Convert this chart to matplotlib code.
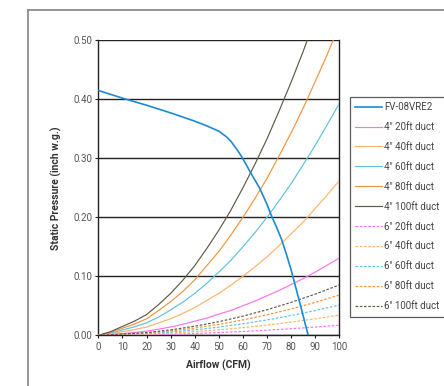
import matplotlib
matplotlib.use("Agg")
import matplotlib.pyplot as plt
from matplotlib.lines import Line2D

plt.rcParams['font.family'] = ['Roboto', 'DejaVu Sans']

# ---- data ----
airflow = [0, 5, 10, 15, 20, 25, 30, 35, 40, 45, 50, 55, 60, 65, 70, 75, 80, 85, 90, 95, 100]

fan_x = [0, 10, 20, 30, 40, 45, 50, 53, 55, 57, 59, 61, 63, 65, 67, 70, 72, 74, 76, 78, 80, 82, 84, 86, 87.1]
fan_y = [0.415, 0.402, 0.390, 0.377, 0.363, 0.355, 0.346, 0.337, 0.329, 0.318, 0.306, 0.292,
         0.277, 0.263, 0.249, 0.222, 0.201, 0.183, 0.163, 0.138, 0.111, 0.080, 0.049, 0.017, 0.0]

d4_20 = [0, 0.0012, 0.003, 0.0048, 0.007, 0.0104, 0.014, 0.0186, 0.024, 0.029, 0.036,
         0.042, 0.050, 0.058, 0.067, 0.076, 0.086, 0.096, 0.107, 0.119, 0.131]
d4_40 = [0, 0.0024, 0.006, 0.0096, 0.014, 0.021, 0.028, 0.037, 0.047, 0.059, 0.071,
         0.085, 0.100, 0.116, 0.133, 0.152, 0.172, 0.192, 0.215, 0.238, 0.262]
d4_60 = [0, 0.0036, 0.009, 0.0144, 0.021, 0.031, 0.043, 0.056, 0.071, 0.088, 0.107,
         0.127, 0.150, 0.174, 0.200, 0.228, 0.257, 0.289, 0.322, 0.357, 0.393]
d4_80 = [0, 0.005, 0.012, 0.019, 0.028, 0.042, 0.057, 0.074, 0.094, 0.118, 0.142,
         0.170, 0.200, 0.232, 0.266, 0.304, 0.343, 0.385, 0.430, 0.476, 0.525]
d4_100 = [0, 0.006, 0.015, 0.024, 0.035, 0.052, 0.071, 0.093, 0.118, 0.147, 0.178,
          0.212, 0.250, 0.290, 0.333, 0.380, 0.429, 0.481, 0.537, 0.595, 0.656]

airflow6 = [0, 10, 20, 30, 40, 50, 60, 70, 80, 90, 100]
d6_20 = [0, 0.0004, 0.0009, 0.0018, 0.0031, 0.0046, 0.0065, 0.0087, 0.0112, 0.0140, 0.0171]
d6_40 = [0, 0.0008, 0.0018, 0.0037, 0.0062, 0.0093, 0.0130, 0.0173, 0.0223, 0.0279, 0.0341]
d6_60 = [0, 0.0012, 0.0028, 0.0055, 0.0092, 0.0139, 0.0195, 0.0260, 0.0335, 0.0419, 0.0512]
d6_80 = [0, 0.0016, 0.0037, 0.0074, 0.0123, 0.0185, 0.0260, 0.0347, 0.0446, 0.0558, 0.0682]
d6_100 = [0, 0.0020, 0.0046, 0.0092, 0.0154, 0.0230, 0.0325, 0.0433, 0.0558, 0.0698, 0.0853]

labels_4 = ['4" 20ft duct', '4" 40ft duct', '4" 60ft duct', '4" 80ft duct', '4" 100ft duct']
labels_6 = ['6" 20ft duct', '6" 40ft duct', '6" 60ft duct', '6" 80ft duct', '6" 100ft duct']
fan_label = 'FV-08VRE2'

x_ticks = [0, 10, 20, 30, 40, 50, 60, 70, 80, 90, 100]
y_ticks = [0.0, 0.1, 0.2, 0.3, 0.4, 0.5]

# ---- styles ----
duct_colors = ['#ff70f0', '#fdb368', '#5dc2e0', '#f3943f', '#5f5a45']
fan_color = '#1b8ad6'

W, H = 444, 386
fig = plt.figure(figsize=(W / 100, H / 100), dpi=100)

# outer frame
fig.add_artist(Line2D([28 / W, 28 / W], [0, 1 - 9.5 / H], transform=fig.transFigure,
                      color='#8c8c8c', lw=1.3))
fig.add_artist(Line2D([28 / W, 1], [1 - 9.5 / H, 1 - 9.5 / H], transform=fig.transFigure,
                      color='#8c8c8c', lw=1.3))

ax = fig.add_axes([98.3 / W, 1 - 335.3 / H, (339.3 - 98.3) / W, (335.3 - 40.3) / H])

handles = []
h, = ax.plot(fan_x, fan_y, color=fan_color, lw=1.2, label=fan_label, zorder=4)
handles.append(h)
for ys, c, lab in zip([d4_20, d4_40, d4_60, d4_80, d4_100], duct_colors, labels_4):
    h, = ax.plot(airflow, ys, color=c, lw=0.85, label=lab, zorder=3)
    handles.append(h)
for ys, c, lab in zip([d6_20, d6_40, d6_60, d6_80, d6_100], duct_colors, labels_6):
    h, = ax.plot(airflow6, ys, color=c, lw=0.85, ls=(0, (2.2, 1.4)), label=lab, zorder=3)
    handles.append(h)

ax.set_xlim(0, 100)
ax.set_ylim(0, 0.5)
ax.set_xticks(x_ticks)
ax.set_yticks(y_ticks)
ax.set_yticklabels([f'{v:.2f}' for v in y_ticks])
ax.yaxis.grid(True, color='#222222', lw=1.0)
ax.set_axisbelow(True)
for s in ['left', 'right', 'bottom']:
    ax.spines[s].set_color('#222222')
    ax.spines[s].set_linewidth(1.0)
ax.spines['top'].set_visible(False)
ax.tick_params(axis='both', labelsize=7, colors='#222222', labelcolor='#555555',
               length=2.5, width=0.8, pad=2)

ax.set_xlabel('Airflow (CFM)', fontsize=7.5, fontweight='bold', color='#333333', labelpad=6)
ax.set_ylabel('Static Pressure (inch w.g.)', fontsize=7.5, fontweight='bold', color='#333333', labelpad=8)

fs = 7
leg = fig.legend(handles=handles, loc='upper left',
                 bbox_to_anchor=(350 / W, 1 - 96.7 / H), bbox_transform=fig.transFigure,
                 fontsize=fs, frameon=True, fancybox=False, borderaxespad=0,
                 handlelength=2.7, handletextpad=0.25, labelspacing=1.02, borderpad=0.55)
leg.get_frame().set_edgecolor('#333333')
leg.get_frame().set_linewidth(0.9)
for t in leg.get_texts():
    t.set_color('#444444')

fig.savefig('out.png', dpi=100)
